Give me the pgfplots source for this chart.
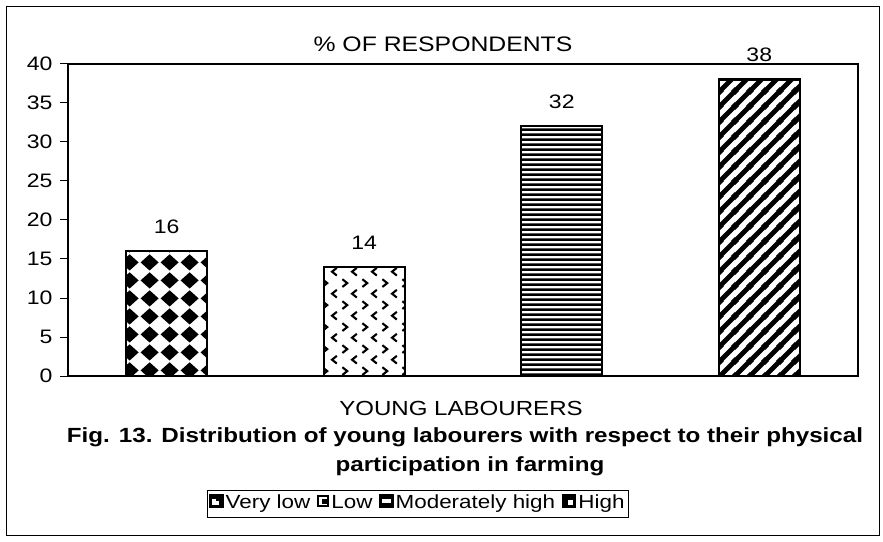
\documentclass[border=0pt]{standalone}
\usepackage{fontspec}
\setmainfont{Liberation Sans}[FakeStretch=1.18]
\usepackage{pgfplots}
\pgfplotsset{compat=1.18}
\usetikzlibrary{patterns}

% fill patterns of the four bars
\pgfdeclarepatternformonly{diamonds}{\pgfpointorigin}{\pgfpoint{20pt}{18pt}}{\pgfpoint{20pt}{18pt}}{
  \pgfpathmoveto{\pgfpoint{0.6pt}{9pt}}\pgfpathlineto{\pgfpoint{10pt}{0.5pt}}
  \pgfpathlineto{\pgfpoint{19.4pt}{9pt}}\pgfpathlineto{\pgfpoint{10pt}{17.5pt}}\pgfpathclose
  \pgfusepath{fill}}
\pgfdeclarepatternformonly{chevrons}{\pgfpointorigin}{\pgfpoint{20pt}{22pt}}{\pgfpoint{20pt}{22pt}}{
  \pgfsetlinewidth{2.2pt}
  \pgfpathmoveto{\pgfpoint{2.5pt}{20.5pt}}\pgfpathlineto{\pgfpoint{7.5pt}{16.5pt}}\pgfpathlineto{\pgfpoint{2.5pt}{12.5pt}}
  \pgfpathmoveto{\pgfpoint{17.5pt}{9.5pt}}\pgfpathlineto{\pgfpoint{12.5pt}{5.5pt}}\pgfpathlineto{\pgfpoint{17.5pt}{1.5pt}}
  \pgfusepath{stroke}}
\pgfdeclarepatternformonly{hstripes}{\pgfpointorigin}{\pgfpoint{100pt}{5pt}}{\pgfpoint{100pt}{5pt}}{
  \pgfpathrectangle{\pgfpoint{-1pt}{0pt}}{\pgfpoint{102pt}{3pt}}
  \pgfusepath{fill}}
\pgfdeclarepatternformonly{thickdiag}{\pgfpointorigin}{\pgfpoint{15pt}{15pt}}{\pgfpoint{15pt}{15pt}}{
  \pgfsetlinewidth{5pt}
  \pgfpathmoveto{\pgfpoint{-2pt}{-2pt}}\pgfpathlineto{\pgfpoint{17pt}{17pt}}
  \pgfpathmoveto{\pgfpoint{-6pt}{9pt}}\pgfpathlineto{\pgfpoint{6pt}{21pt}}
  \pgfpathmoveto{\pgfpoint{9pt}{-6pt}}\pgfpathlineto{\pgfpoint{21pt}{6pt}}
  \pgfusepath{stroke}}

\begin{document}
\begin{tikzpicture}[x=1pt,y=1pt]
\path[use as bounding box] (0,0) rectangle (883,541);
\draw[line width=0.8pt] (6,6) rectangle (879,535);
\begin{axis}[
  at={(68pt,165pt)}, anchor=south west,
  width=790pt, height=312pt, scale only axis,
  ybar,
  xmin=-0.5, xmax=3.5, ymin=0, ymax=40,
  xtick=\empty, ytick={0,5,...,40},
  ytick pos=left, tick align=outside, major tick length=8pt,
  axis line style={line width=1.6pt},
  tick style={line width=1pt, black},
  tick label style={font=\fontsize{19.5}{22}\selectfont, /pgf/number format/assume math mode=true},
  yticklabel style={xshift=-4pt},
  bar width=81pt,
  nodes near coords,
  every node near coord/.append style={font=\fontsize{19.5}{22}\selectfont, black, yshift=13pt, /pgf/number format/assume math mode=true},
  legend columns=4,
  legend style={at={(0.443,-0.41)}, anchor=center, draw=black, line width=0.6pt,
    font=\fontsize{19}{22}\selectfont, inner xsep=2pt, inner ysep=3pt,
    nodes={text height=13pt, text depth=4pt},
    /tikz/every even column/.append style={column sep=5pt},
    /tikz/every odd column/.append style={column sep=0pt}},
]
\addplot[bar shift=0pt, draw=black, line width=2.2pt, pattern=diamonds, pattern color=black,
  legend image code/.code={\fill[black] (0pt,-3pt) rectangle (12pt,9pt);
    \fill[white] (3pt,0pt) rectangle (4.5pt,4pt); \fill[white] (3pt,0pt) rectangle (7pt,1.5pt);}] coordinates {(0,16)};
\addplot[bar shift=0pt, draw=black, line width=2.2pt, pattern=chevrons, pattern color=black,
  legend image code/.code={\draw[black, fill=white, line width=2pt] (1pt,-2pt) rectangle (11pt,8pt);
    \fill[black] (6pt,1.5pt) rectangle (8.5pt,4pt);}] coordinates {(1,14)};
\addplot[bar shift=0pt, draw=black, line width=2.2pt, pattern=hstripes, pattern color=black,
  legend image code/.code={\fill[black] (0pt,-3pt) rectangle (12pt,9pt);
    \fill[white] (2.5pt,2.2pt) rectangle (9.5pt,3.7pt);}] coordinates {(2,32)};
\addplot[bar shift=0pt, draw=black, line width=2.2pt, pattern=thickdiag, pattern color=black,
  legend image code/.code={\fill[black] (0pt,-3pt) rectangle (12pt,9pt);
    \fill[white] (6pt,0pt) rectangle (9pt,3pt);}] coordinates {(3,38)};
\legend{Very low, Low, Moderately high, High}
\end{axis}
\node[font=\fontsize{21}{24}\selectfont] at (443,497) {\% OF RESPONDENTS};
\node[font=\fontsize{20.4}{24}\selectfont] at (461,133) {YOUNG LABOURERS};
\node[font=\fontsize{20.5}{24}\selectfont\bfseries] at (465,104) {Fig. 13. Distribution of young labourers with respect to their physical};
\node[font=\fontsize{20.5}{24}\selectfont\bfseries] at (470,75) {participation in farming};
\end{tikzpicture}
\end{document}
